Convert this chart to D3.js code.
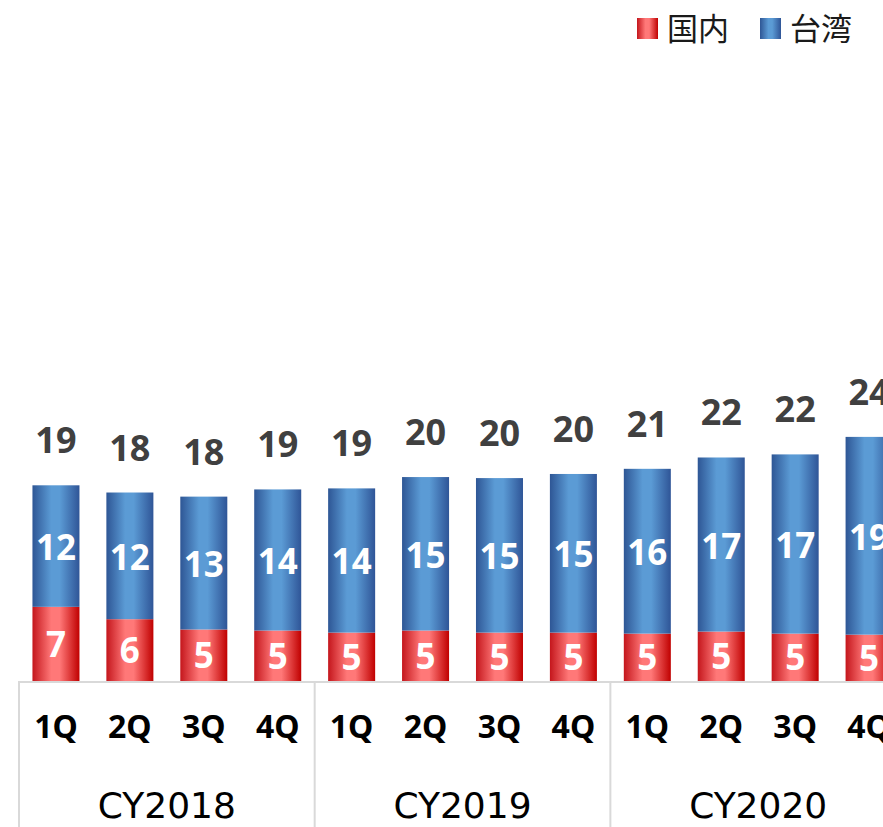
<!DOCTYPE html>
<html>
<head>
<meta charset="utf-8">
<script src="https://cdn.jsdelivr.net/npm/d3@7"></script>
<style>
  body { margin: 0; background: #fff; }
  svg { display: block; overflow: hidden; }
</style>
</head>
<body>
<div id="chart"></div>
<script>
// data (heights estimated, labels rounded)
const years = ["CY2018", "CY2019", "CY2020"];
const quarters = ["1Q", "2Q", "3Q", "4Q"];
const domestic = [7.2, 6.0, 5.0, 4.9, 4.7, 4.9, 4.7, 4.7, 4.6, 4.8, 4.6, 4.5];   // 国内
const taiwan   = [11.8, 12.3, 12.9, 13.7, 14.0, 14.9, 15.0, 15.4, 16.0, 16.9, 17.4, 19.2]; // 台湾
const seriesNames = ["国内", "台湾"];

const width = 883, height = 827;
const baseY = 681;

const rows = [];
years.forEach((yr, i) => {
  quarters.forEach((q, j) => {
    const k = i * 4 + j;
    rows.push({ idx: k, year: yr, quarter: q, dom: domestic[k], tw: taiwan[k] });
  });
});

const svg = d3.select("#chart")
              .append("svg")
              .attr("width", width)
              .attr("height", height);

// gradients (dark edge - light centre - dark edge)
const defs = svg.append("defs");
function grad(id, dark, light, dark2) {
  const g = defs.append("linearGradient")
                .attr("id", id)
                .attr("x1", "0%").attr("x2", "100%")
                .attr("y1", "0%").attr("y2", "0%");
  g.append("stop").attr("offset", "0%").attr("stop-color", dark);
  g.append("stop").attr("offset", "40%").attr("stop-color", light);
  g.append("stop").attr("offset", "58%").attr("stop-color", light);
  g.append("stop").attr("offset", "100%").attr("stop-color", dark2);
}
grad("gRed", "#C4161C", "#FF7878", "#C00000");
grad("gBlue", "#2E5695", "#5B9BD5", "#2F5597");

const x = d3.scaleBand()
            .domain(rows.map(d => d.idx))
            .range([19, 19 + 12 * 73.92])
            .paddingInner(0.364)
            .paddingOuter(0.182);

const y = d3.scaleLinear()
            .domain([0, 50])
            .range([baseY, baseY - 50 * 10.3]);

const fmt = v => String(Math.round(v));

// bars
const bar = svg.selectAll("g.bar")
               .data(rows)
               .enter()
               .append("g")
               .attr("class", "bar");

bar.append("rect")
   .attr("x", d => x(d.idx))
   .attr("y", d => y(d.dom))
   .attr("width", x.bandwidth())
   .attr("height", d => y(0) - y(d.dom))
   .attr("fill", "url(#gRed)");

bar.append("rect")
   .attr("x", d => x(d.idx))
   .attr("y", d => y(d.dom + d.tw))
   .attr("width", x.bandwidth())
   .attr("height", d => y(d.dom) - y(d.dom + d.tw))
   .attr("fill", "url(#gBlue)");

const numFont = "'Noto Sans', 'DejaVu Sans', sans-serif";

// segment labels
bar.append("text")
   .attr("x", d => x(d.idx) + x.bandwidth() / 2)
   .attr("y", d => (y(0) + y(d.dom)) / 2 + 13)
   .attr("text-anchor", "middle")
   .style("font-family", numFont)
   .style("font-weight", "bold")
   .style("font-size", "35px")
   .attr("fill", "#fff")
   .text(d => fmt(d.dom));

bar.append("text")
   .attr("x", d => x(d.idx) + x.bandwidth() / 2)
   .attr("y", d => (y(d.dom) + y(d.dom + d.tw)) / 2 + 14)
   .attr("text-anchor", "middle")
   .style("font-family", numFont)
   .style("font-weight", "bold")
   .style("font-size", "35px")
   .attr("fill", "#fff")
   .text(d => fmt(d.tw));

// totals
bar.append("text")
   .attr("x", d => x(d.idx) + x.bandwidth() / 2)
   .attr("y", d => y(d.dom + d.tw) - 32)
   .attr("text-anchor", "middle")
   .style("font-family", numFont)
   .style("font-weight", "bold")
   .style("font-size", "36px")
   .attr("fill", "#404040")
   .text(d => fmt(d.dom + d.tw));

// category axis
svg.append("line")
   .attr("x1", 19).attr("x2", width)
   .attr("y1", baseY + 1).attr("y2", baseY + 1)
   .attr("stroke", "#D9D9D9")
   .attr("stroke-width", 2);

const groupW = 4 * x.step();
years.forEach((yr, i) => {
  const gx = 19 + i * groupW;
  svg.append("line")
     .attr("x1", gx).attr("x2", gx)
     .attr("y1", baseY).attr("y2", height)
     .attr("stroke", "#D9D9D9")
     .attr("stroke-width", 2);
  svg.append("text")
     .attr("x", gx + groupW / 2)
     .attr("y", 818)
     .attr("text-anchor", "middle")
     .style("font-family", "'DejaVu Sans', sans-serif")
     .style("font-size", "36px")
     .attr("fill", "#000")
     .text(yr);
});
svg.append("line")
   .attr("x1", 19 + 3 * groupW).attr("x2", 19 + 3 * groupW)
   .attr("y1", baseY).attr("y2", height)
   .attr("stroke", "#D9D9D9")
   .attr("stroke-width", 2);

svg.selectAll("text.q")
   .data(rows)
   .enter()
   .append("text")
   .attr("class", "q")
   .attr("x", d => x(d.idx) + x.bandwidth() / 2)
   .attr("y", 738)
   .attr("text-anchor", "middle")
   .style("font-family", numFont)
   .style("font-weight", "bold")
   .style("font-size", "32px")
   .attr("fill", "#000")
   .text(d => d.quarter);

// legend
const legend = [
  { name: seriesNames[0], fill: "url(#gRed)", sx: 637, tx: 667 },
  { name: seriesNames[1], fill: "url(#gBlue)", sx: 760, tx: 790 }
];
legend.forEach(l => {
  svg.append("rect")
     .attr("x", l.sx).attr("y", 18)
     .attr("width", 21).attr("height", 21)
     .attr("fill", l.fill);
  svg.append("text")
     .attr("x", l.tx)
     .attr("y", 40)
     .style("font-family", "'Noto Sans CJK JP', sans-serif")
     .style("font-size", "31px")
     .attr("fill", "#1a1a1a")
     .text(l.name);
});
</script>
</body>
</html>
